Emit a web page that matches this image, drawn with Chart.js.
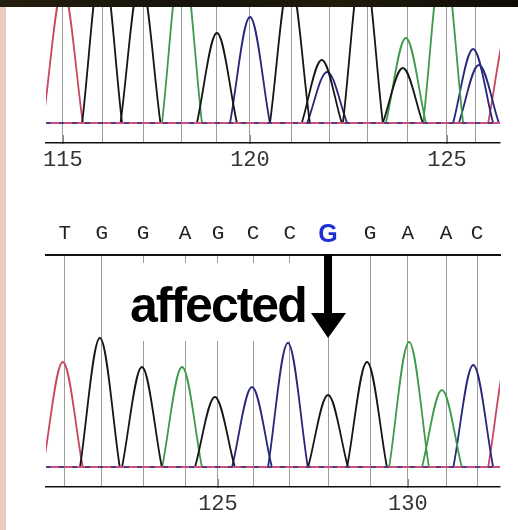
<!DOCTYPE html>
<html>
<head>
<meta charset="utf-8">
<script src="https://cdn.jsdelivr.net/npm/chart.js@4"></script>
<style>
  body { margin: 0; background: #fff; width: 518px; height: 530px; overflow: hidden; position: relative; }
  canvas { position: absolute; left: 0; }
  #upper { top: 0; }
  #lower { top: 200px; }
  #band { position: absolute; left: 0; top: 0; width: 518px; height: 7px;
          background: linear-gradient(90deg, #241e0e, #17130a 35%, #211b0c 65%, #0f0c06); z-index: 3; }
  #strip { position: absolute; left: 0; top: 7px; width: 6px; height: 523px; background: #ecc9bd; z-index: 3; }
  #box { position: absolute; left: 108px; top: 263px; width: 192px; height: 78px; background: #fff; z-index: 2; }
  #affected { position: absolute; left: 130px; top: 280px; font: bold 50px/50px "Liberation Sans", Arial, sans-serif;
              letter-spacing: -2px; color: #000; z-index: 3; }
</style>
</head>
<body>
<div id="band"></div>
<div id="strip"></div>
<canvas id="upper" width="518" height="175"></canvas>
<canvas id="lower" width="518" height="330"></canvas>
<div id="box"></div>
<div id="affected">affected</div>
<script>
// upper trace: base call positions (grid lines) and numbered ticks
const upperCalls = [115.00, 116.02, 117.11, 118.10, 119.01, 119.87, 120.94, 121.95, 122.92, 123.96, 125.00, 125.73];
const upperTickBases = [115, 120, 125];
const upperRange = [114.56, 126.38];

// upper peaks per channel (position, height)
const upperG = [116.02, 117.02, 119.01, 120.91, 121.74, 122.81, 123.85];
const upperGHeight = [165, 145, 90, 145, 63, 165, 55];
const upperA = [118.10, 123.93, 124.90];
const upperAHeight = [170, 85, 170];
const upperC = [119.87, 121.88, 125.68, 125.83];
const upperCHeight = [106, 51, 74, 58];
const upperT = [115.00, 126.59];
const upperTHeight = [135, 95];

// lower trace
const lowerBases = ['T', 'G', 'G', 'A', 'G', 'C', 'C', 'G', 'G', 'A', 'A', 'C'];
const lowerCalls = [120.99, 121.96, 123.04, 124.14, 125.00, 125.92, 126.88, 127.88, 128.98, 129.97, 130.97, 131.78];
const lowerTickBases = [125, 130];
const lowerRange = [120.50, 132.38];
const affectedIndex = 7;

const lowerG = [121.91, 123.01, 124.92, 127.88, 128.90];
const lowerGHeight = [129, 100, 70, 72, 105];
const lowerA = [124.06, 130.00, 130.86];
const lowerAHeight = [100, 125, 77];
const lowerC = [125.89, 126.83, 131.68];
const lowerCHeight = [80, 124, 102];
const lowerT = [120.94, 132.59];
const lowerTHeight = [105, 110];

const colors = { A: '#3f9a4c', C: '#27287c', G: '#161616', T: '#c8485f' };
const PEAK_HALF = 0.52;

function peakSets(pos, hts, color) {
  return pos.map((p, i) => ({
    data: [{x: p - PEAK_HALF, y: 0}, {x: p, y: hts[i]}, {x: p + PEAK_HALF, y: 0}],
    borderColor: color, borderWidth: 1.8, pointRadius: 0, tension: 0.35, fill: false, order: 1
  }));
}

function baselineSets(range) {
  const line = [{x: range[0], y: 0}, {x: range[1], y: 0}];
  return [
    {data: line, borderColor: '#c8507a', borderWidth: 2, pointRadius: 0, order: 0},
    {data: line, borderColor: '#5a3a7a', borderWidth: 2, borderDash: [5, 8], pointRadius: 0, order: -1}
  ];
}

function makeChart(id, o) {
  return new Chart(document.getElementById(id), {
    type: 'line',
    data: { datasets: o.datasets },
    options: {
      responsive: false,
      animation: false,
      events: [],
      layout: { padding: { left: 46, right: 18, top: 0, bottom: 0 } },
      plugins: { legend: { display: false }, tooltip: { enabled: false } },
      scales: {
        x: {
          type: 'linear', position: 'bottom', min: o.range[0], max: o.range[1],
          afterBuildTicks: s => { s.ticks = o.tickBases.map(b => ({ value: o.calls[b - o.firstBase] })); },
          afterFit: s => { s.height = o.bottomHeight; },
          ticks: { autoSkip: false, maxRotation: 0, padding: 12, color: '#333',
                   font: { family: 'Liberation Mono', size: 22 },
                   callback: (v, i) => o.tickBases[i] },
          grid: { drawOnChartArea: false, color: '#111', lineWidth: 1.5, tickLength: -8 },
          border: { color: '#111', width: 1.5 }
        },
        xg: {
          type: 'linear', position: 'top', min: o.range[0], max: o.range[1],
          afterBuildTicks: s => { s.ticks = o.calls.map(v => ({ value: v })); },
          afterFit: s => { s.height = o.topHeight; },
          ticks: o.letterTicks,
          grid: { color: '#9c9c9c', lineWidth: 1, drawTicks: false },
          border: o.topBorder
        },
        y: { display: false, min: -20, max: o.yMax }
      }
    },
    plugins: o.plugins || []
  });
}

makeChart('upper', {
  range: upperRange, calls: upperCalls, tickBases: upperTickBases, firstBase: 115,
  bottomHeight: 32, topHeight: 0, yMax: 123,
  letterTicks: { display: false },
  topBorder: { display: false },
  datasets: [].concat(
    peakSets(upperG, upperGHeight, colors.G),
    peakSets(upperA, upperAHeight, colors.A),
    peakSets(upperC, upperCHeight, colors.C),
    peakSets(upperT, upperTHeight, colors.T),
    baselineSets(upperRange))
});

// arrow pointing at the affected base
const arrowPlugin = {
  id: 'arrow',
  afterDatasetsDraw(chart) {
    const ctx = chart.ctx;
    const x = chart.scales.x.getPixelForValue(lowerCalls[affectedIndex]);
    const top = chart.chartArea.top;
    const tip = chart.scales.y.getPixelForValue(129);
    ctx.save();
    ctx.fillStyle = '#000';
    ctx.fillRect(x - 4, top - 1, 8, tip - 24 - top + 2);
    ctx.beginPath();
    ctx.moveTo(x - 17, tip - 25);
    ctx.lineTo(x + 18, tip - 25);
    ctx.lineTo(x, tip);
    ctx.closePath();
    ctx.fill();
    ctx.restore();
  }
};

makeChart('lower', {
  range: lowerRange, calls: lowerCalls, tickBases: lowerTickBases, firstBase: 121,
  bottomHeight: 43, topHeight: 55, yMax: 212,
  letterTicks: {
    autoSkip: false, maxRotation: 0, padding: 10,
    callback: (v, i) => lowerBases[i],
    color: c => c.index === affectedIndex ? '#1f2fd6' : '#222',
    font: c => c.index === affectedIndex
      ? { family: 'Liberation Sans', size: 25, weight: 'bold', lineHeight: '20px' }
      : { family: 'Liberation Mono', size: 21, lineHeight: '24px' }
  },
  topBorder: { color: '#111', width: 2 },
  datasets: [].concat(
    peakSets(lowerG, lowerGHeight, colors.G),
    peakSets(lowerA, lowerAHeight, colors.A),
    peakSets(lowerC, lowerCHeight, colors.C),
    peakSets(lowerT, lowerTHeight, colors.T),
    baselineSets(lowerRange)),
  plugins: [arrowPlugin]
});
</script>
</body>
</html>
